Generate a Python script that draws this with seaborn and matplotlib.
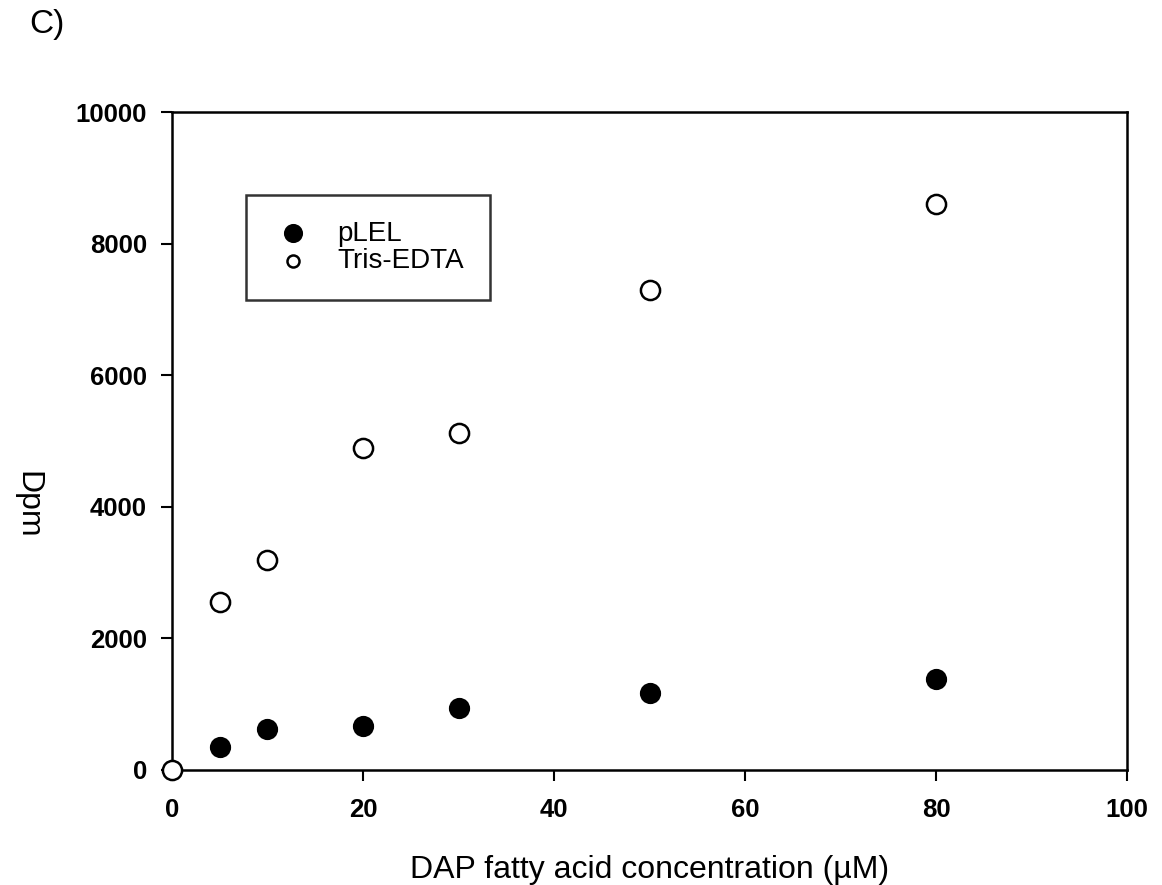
import matplotlib
matplotlib.use("Agg")
import matplotlib.pyplot as plt
import seaborn as sns
import pandas as pd

conc_plel = [5, 10, 20, 30, 50, 80]
dpm_plel = [350, 630, 670, 940, 1170, 1390]
conc_tris = [0, 5, 10, 20, 30, 50, 80]
dpm_tris = [0, 2550, 3200, 4900, 5120, 7300, 8600]
x_ticks = [0, 20, 40, 60, 80, 100]
y_ticks = [0, 2000, 4000, 6000, 8000, 10000]

sns.set_theme(style="white")
plt.rcParams['font.family'] = ['Liberation Sans', 'DejaVu Sans']
plt.rcParams['text.color'] = 'black'
plt.rcParams['axes.labelcolor'] = 'black'

df_p = pd.DataFrame({"x": conc_plel, "y": dpm_plel})
df_t = pd.DataFrame({"x": conc_tris, "y": dpm_tris})

fig = plt.figure(figsize=(11.62, 8.85), dpi=100)
ax = fig.add_axes([0.148, 0.130, 0.822, 0.743])

sns.scatterplot(data=df_p, x="x", y="y", ax=ax, s=190, color="black",
                edgecolor="black", linewidth=1.5, label="pLEL", zorder=3, clip_on=False)
sns.scatterplot(data=df_t, x="x", y="y", ax=ax, s=190, color="white",
                edgecolor="black", linewidth=1.8, label="Tris-EDTA", zorder=3, clip_on=False)

ax.set_xlim(0, 100)
ax.set_ylim(0, 10000)
ax.set_xticks(x_ticks)
ax.set_yticks(y_ticks)
ax.set_xticklabels([str(v) for v in x_ticks], fontsize=18.5, fontweight="bold")
ax.set_yticklabels([str(v) for v in y_ticks], fontsize=18.5, fontweight="bold")
ax.tick_params(axis="x", direction="out", length=8, width=1.5, colors="black",
               bottom=True, pad=12)
ax.tick_params(axis="y", direction="out", length=8, width=1.5, colors="black",
               left=True, pad=10)
for sp in ax.spines.values():
    sp.set_color("black")
    sp.set_linewidth(1.8)

ax.set_xlabel("DAP fatty acid concentration (\u00b5M)", fontsize=23)
ax.xaxis.set_label_coords(0.5, -0.13)
ax.set_ylabel("Dpm", fontsize=23, rotation=-90, va="center", ha="center")
ax.yaxis.set_label_coords(-0.151, 0.403)

leg = ax.legend(loc="upper left", bbox_to_anchor=(0.0775, 0.875), borderaxespad=0,
                fontsize=20, frameon=True, fancybox=False, edgecolor="black",
                borderpad=0.94, handlelength=1.5, handletextpad=0.85,
                labelspacing=0.05)
leg.get_frame().set_linewidth(1.8)
handles = leg.legend_handles
handles[0].set_sizes([150])
handles[1].set_sizes([75])

fig.text(0.025, 0.972, "C)", fontsize=24, ha="left", va="center")

fig.savefig("out.png", dpi=100)
